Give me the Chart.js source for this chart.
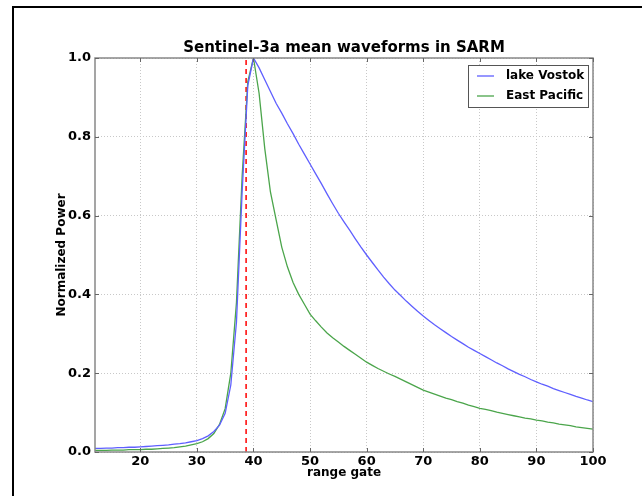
<!DOCTYPE html>
<html>
<head>
<meta charset="utf-8">
<script src="https://cdn.jsdelivr.net/npm/chart.js@4/dist/chart.umd.min.js"></script>
<style>
  html, body { margin: 0; padding: 0; background: #fff; }
  #wrap { width: 642px; height: 496px; }
</style>
</head>
<body>
<div id="wrap"><canvas id="chart" width="642" height="496"></canvas></div>
<script>
// range gates 12..100
const gates = [];
for (let g = 12; g <= 100; g++) gates.push(g);

// Lake Vostok mean waveform
const vostok = [
  0.009, 0.009, 0.010, 0.010, 0.011, 0.011, 0.012, 0.012, 0.013, 0.014,   // 12-21
  0.015, 0.016, 0.017, 0.018, 0.020, 0.021, 0.023, 0.026, 0.029, 0.034,   // 22-31
  0.041, 0.052, 0.068, 0.098, 0.170, 0.330, 0.660, 0.930, 1.000, 0.975,   // 32-41
  0.945, 0.915, 0.885, 0.860, 0.833, 0.808, 0.781, 0.756, 0.731, 0.706,   // 42-51
  0.681, 0.655, 0.630, 0.606, 0.584, 0.563, 0.541, 0.520, 0.500, 0.481,   // 52-61
  0.462, 0.444, 0.427, 0.411, 0.397, 0.383, 0.370, 0.357, 0.345, 0.334,   // 62-71
  0.323, 0.313, 0.303, 0.293, 0.284, 0.275, 0.266, 0.258, 0.250, 0.242,   // 72-81
  0.234, 0.226, 0.219, 0.211, 0.204, 0.197, 0.191, 0.184, 0.178, 0.172,   // 82-91
  0.167, 0.161, 0.156, 0.151, 0.146, 0.141, 0.137, 0.132, 0.128          // 92-100
];

// East Pacific mean waveform
const eastPacific = [
  0.004, 0.004, 0.004, 0.005, 0.005, 0.005, 0.006, 0.006, 0.006, 0.007,   // 12-21
  0.007, 0.008, 0.009, 0.010, 0.011, 0.013, 0.015, 0.018, 0.021, 0.026,   // 22-31
  0.034, 0.047, 0.070, 0.110, 0.200, 0.380, 0.700, 0.940, 1.000, 0.910,   // 32-41
  0.770, 0.660, 0.590, 0.520, 0.470, 0.430, 0.400, 0.375, 0.350, 0.333,   // 42-51
  0.317, 0.302, 0.290, 0.279, 0.268, 0.258, 0.248, 0.238, 0.228, 0.220,   // 52-61
  0.212, 0.205, 0.198, 0.192, 0.185, 0.178, 0.171, 0.164, 0.157, 0.152,   // 62-71
  0.147, 0.142, 0.137, 0.133, 0.128, 0.124, 0.119, 0.115, 0.111, 0.108,   // 72-81
  0.105, 0.101, 0.098, 0.095, 0.092, 0.089, 0.086, 0.084, 0.081, 0.079,   // 82-91
  0.076, 0.074, 0.071, 0.069, 0.067, 0.064, 0.062, 0.060, 0.058          // 92-100
];

const refGate = 38.7;   // red dashed marker
const xTicks = [20, 30, 40, 50, 60, 70, 80, 90, 100];
const titleText = 'Sentinel-3a mean waveforms in SARM';

const FONT = '"DejaVu Sans", sans-serif';

const toPoints = (ys) => gates.map((g, i) => ({ x: g, y: ys[i] }));

// white background + the black frame at top/left
const framePlugin = {
  id: 'frame',
  beforeDraw(chart) {
    const ctx = chart.ctx;
    ctx.save();
    ctx.fillStyle = '#fff';
    ctx.fillRect(0, 0, chart.width, chart.height);
    ctx.strokeStyle = '#000';
    ctx.lineWidth = 2;
    ctx.beginPath();
    ctx.moveTo(13, chart.height);
    ctx.lineTo(13, 7);
    ctx.lineTo(chart.width, 7);
    ctx.stroke();
    ctx.restore();
  }
};

// axes box, inward ticks, title, legend
const axesPlugin = {
  id: 'axesBox',
  afterDatasetsDraw(chart) {
    const { ctx, chartArea: a, scales } = chart;
    ctx.save();
    ctx.strokeStyle = '#888';
    ctx.lineWidth = 1.5;
    ctx.strokeRect(a.left, a.top, a.right - a.left, a.bottom - a.top);

    // inward ticks on all four sides
    ctx.strokeStyle = '#666';
    ctx.lineWidth = 1;
    ctx.beginPath();
    scales.x.ticks.forEach(t => {
      const px = Math.round(scales.x.getPixelForValue(t.value)) + 0.5;
      ctx.moveTo(px, a.bottom); ctx.lineTo(px, a.bottom - 4);
      ctx.moveTo(px, a.top); ctx.lineTo(px, a.top + 4);
    });
    scales.y.ticks.forEach(t => {
      const py = Math.round(scales.y.getPixelForValue(t.value)) + 0.5;
      ctx.moveTo(a.left, py); ctx.lineTo(a.left + 4, py);
      ctx.moveTo(a.right, py); ctx.lineTo(a.right - 4, py);
    });
    ctx.stroke();

    // title centred over the plot
    ctx.fillStyle = '#000';
    ctx.font = 'bold 15px ' + FONT;
    ctx.textAlign = 'center';
    ctx.textBaseline = 'middle';
    ctx.fillText(titleText, (a.left + a.right) / 2, 48);

    // legend box in the upper right
    const items = chart.data.datasets.filter(d => d.label);
    const bx = 468, by = 65, bw = 120, bh = 42;
    ctx.fillStyle = '#fff';
    ctx.fillRect(bx, by, bw, bh);
    ctx.strokeStyle = '#555';
    ctx.lineWidth = 1;
    ctx.strokeRect(bx + 0.5, by + 0.5, bw, bh);
    ctx.font = 'bold 12px ' + FONT;
    ctx.textAlign = 'left';
    items.forEach((d, i) => {
      const y = by + 11 + i * 20;
      ctx.strokeStyle = d.borderColor;
      ctx.lineWidth = d.borderWidth;
      ctx.beginPath();
      ctx.moveTo(bx + 9, y); ctx.lineTo(bx + 26, y);
      ctx.stroke();
      ctx.fillStyle = '#000';
      ctx.fillText(d.label, bx + 38, y);
    });
    ctx.restore();
  }
};

new Chart(document.getElementById('chart'), {
  type: 'line',
  data: {
    datasets: [
      {
        label: 'lake Vostok',
        data: toPoints(vostok),
        borderColor: 'rgb(95,95,255)',
        borderWidth: 1.3,
        pointRadius: 0,
        tension: 0
      },
      {
        label: 'East Pacific',
        data: toPoints(eastPacific),
        borderColor: 'rgb(75,165,75)',
        borderWidth: 1.3,
        pointRadius: 0,
        tension: 0
      },
      {
        label: '',
        data: [{ x: refGate, y: 0 }, { x: refGate, y: 1 }],
        borderColor: '#ff0000',
        borderWidth: 1.5,
        borderDash: [5, 4],
        pointRadius: 0
      }
    ]
  },
  options: {
    responsive: false,
    animation: false,
    layout: { padding: { top: 58, right: 49, bottom: 0, left: 0 } },
    plugins: {
      legend: { display: false },
      title: { display: false },
      tooltip: { enabled: false }
    },
    scales: {
      x: {
        type: 'linear',
        min: 12,
        max: 100,
        afterBuildTicks: (scale) => { scale.ticks = xTicks.map(v => ({ value: v })); },
        afterFit: (scale) => { scale.height = 44; },
        grid: { color: '#c8c8c8', lineWidth: 1, drawTicks: false },
        border: { display: false, dash: [1, 2] },
        ticks: {
          color: '#000',
          padding: 2,
          maxRotation: 0,
          font: { family: FONT, size: 13, weight: 'bold' }
        },
        title: {
          display: true,
          text: 'range gate',
          color: '#000',
          padding: { top: 0, bottom: 16 },
          font: { family: FONT, size: 12, weight: 'bold' }
        }
      },
      y: {
        min: 0,
        max: 1,
        afterFit: (scale) => { scale.width = 95; },
        grid: { color: '#c8c8c8', lineWidth: 1, drawTicks: false },
        border: { display: false, dash: [1, 2] },
        ticks: {
          stepSize: 0.2,
          color: '#000',
          padding: 4,
          font: { family: FONT, size: 13, weight: 'bold' },
          callback: (v) => v.toFixed(1)
        },
        title: {
          display: true,
          text: 'Normalized Power',
          color: '#000',
          padding: { top: 55, bottom: 0 },
          font: { family: FONT, size: 12, weight: 'bold' }
        }
      }
    }
  },
  plugins: [framePlugin, axesPlugin]
});
</script>
</body>
</html>
